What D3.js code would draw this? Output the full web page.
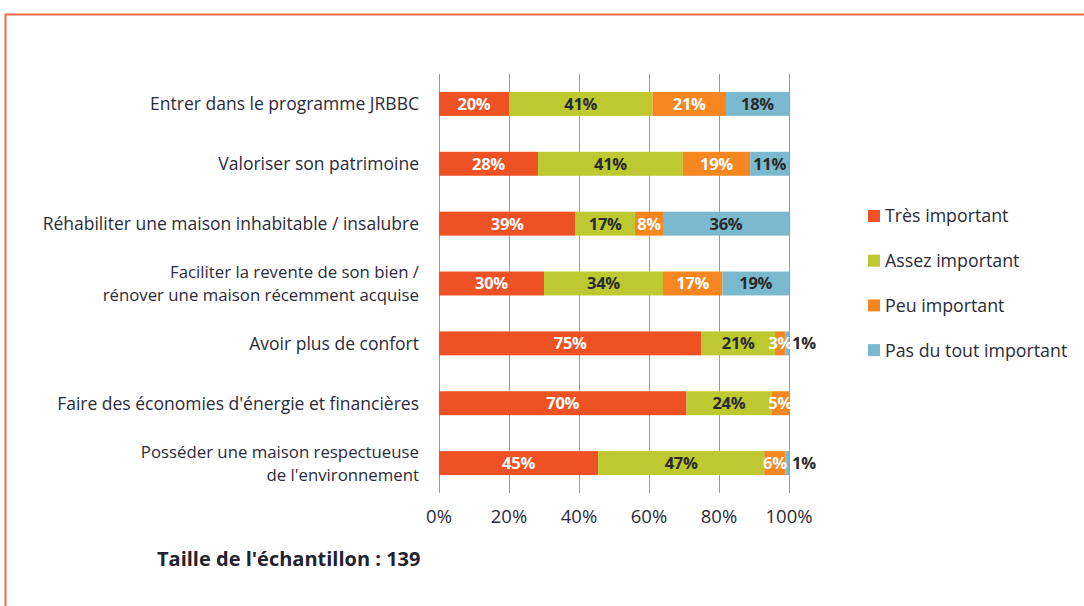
<!DOCTYPE html>
<html>
<head>
<meta charset="utf-8">
<script src="https://cdn.jsdelivr.net/npm/d3@7"></script>
<style>
  html, body { margin: 0; padding: 0; background: #fff; }
  body { width: 1084px; height: 606px; overflow: hidden; }
  svg text { font-family: "Open Sans", sans-serif; }
</style>
</head>
<body>
<div id="chart"></div>
<script>
// Categories (one per row, top to bottom); multi-line labels split on "\n"
const categories = [
  "Entrer dans le programme JRBBC",
  "Valoriser son patrimoine",
  "Réhabiliter une maison inhabitable / insalubre",
  "Faciliter la revente de son bien /\nrénover une maison récemment acquise",
  "Avoir plus de confort",
  "Faire des économies d'énergie et financières",
  "Posséder une maison respectueuse\nde l'environnement"
];

const seriesNames = ["Très important", "Assez important", "Peu important", "Pas du tout important"];
const seriesColors = ["#ee5124", "#bec932", "#f6861f", "#7bb9ce"];
const labelColors = ["#ffffff", "#2a2a2a", "#ffffff", "#2a2a2a"];

// percentages per series, same order as categories
const tresImportant   = [20, 28, 39, 30, 75, 70, 45];
const assezImportant  = [41, 41, 17, 34, 21, 24, 47];
const peuImportant    = [21, 19,  8, 17,  3,  5,  6];
const pasDuTout       = [18, 11, 36, 19,  1,  0,  1];

const tickValues = [0, 20, 40, 60, 80, 100];
const sampleNote = "Taille de l'échantillon : 139";

const seriesValues = [tresImportant, assezImportant, peuImportant, pasDuTout];

const width = 1084, height = 606;
const svg = d3.select("#chart").append("svg")
  .attr("width", width).attr("height", height);

// frame
svg.append("path")
  .attr("d", "M5.5,620 L5.5,14.5 L1100,14.5")
  .attr("fill", "none").attr("stroke", "#f26a47").attr("stroke-width", 2);

const x = d3.scaleLinear().domain([0, 100]).range([439, 789]);
const y = d3.scaleBand().domain(categories).range([74, 493])
  .paddingInner(0.6).paddingOuter(0.3);

// gridlines
svg.append("g").selectAll("line").data(tickValues).enter().append("line")
  .attr("x1", d => Math.round(x(d)) + 0.5).attr("x2", d => Math.round(x(d)) + 0.5)
  .attr("y1", 74).attr("y2", 493)
  .attr("stroke", "#9a9a9a").attr("stroke-width", 1);

// tick labels
svg.append("g").selectAll("text").data(tickValues).enter().append("text")
  .attr("x", d => x(d)).attr("y", 516).attr("dy", "0.36em")
  .attr("text-anchor", "middle")
  .attr("font-size", 18.5).attr("fill", "#2b2b3a")
  .text(d => d + "%");

// rows: normalised stack so every bar runs to 100%
const rows = categories.map((c, i) => {
  const vals = seriesValues.map(s => s[i]);
  const total = d3.sum(vals);
  let acc = 0;
  const segs = vals.map((v, k) => {
    const s = { cat: c, k, value: v, x0: acc / total * 100, x1: (acc + v) / total * 100 };
    acc += v;
    return s;
  });
  return { cat: c, segs };
});

const rowG = svg.append("g").selectAll("g").data(rows).enter().append("g");

rowG.selectAll("rect").data(r => r.segs.filter(s => s.value > 0)).enter().append("rect")
  .attr("x", s => x(s.x0)).attr("width", s => x(s.x1) - x(s.x0))
  .attr("y", s => y(s.cat)).attr("height", y.bandwidth())
  .attr("fill", s => seriesColors[s.k]);

const outside = s => s.value <= 1 && s.k === 3;

rowG.selectAll("text.val").data(r => r.segs.filter(s => s.value > 0)).enter().append("text")
  .attr("class", "val")
  .attr("x", s => outside(s) ? x(100) + 3 : x((s.x0 + s.x1) / 2))
  .attr("y", s => y(s.cat) + y.bandwidth() / 2)
  .attr("dy", "0.36em")
  .attr("text-anchor", s => outside(s) ? "start" : "middle")
  .attr("font-size", 16.5).attr("font-weight", "bold")
  .attr("letter-spacing", -0.3)
  .attr("fill", s => outside(s) ? "#2a2a2a" : labelColors[s.k])
  .text(s => s.value + "%");

// category labels, one text per line
const catG = svg.append("g").selectAll("g").data(categories).enter().append("g");

catG.each(function (c) {
  const lines = c.split("\n");
  const cy = y(c) + y.bandwidth() / 2;
  const lh = 23;
  d3.select(this).selectAll("text").data(lines).enter().append("text")
    .attr("x", 419)
    .attr("y", (d, i) => cy + (i - (lines.length - 1) / 2) * lh)
    .attr("dy", "0.36em")
    .attr("text-anchor", "end")
    .attr("font-size", lines.length > 1 ? 16.8 : 17.5)
    .attr("fill", "#2b2b3a")
    .text(d => d);
});

// legend
const legend = svg.append("g").selectAll("g").data(seriesNames).enter().append("g")
  .attr("transform", (d, i) => `translate(868, ${216 + i * 44.7})`);
legend.append("rect")
  .attr("x", 0).attr("y", -6).attr("width", 12).attr("height", 12)
  .attr("fill", (d, i) => seriesColors[i]);
legend.append("text")
  .attr("x", 17).attr("y", 0).attr("dy", "0.36em")
  .attr("font-size", 17.8).attr("fill", "#2b2b3a")
  .text(d => d);

// sample size note
svg.append("text")
  .attr("x", 157).attr("y", 559).attr("dy", "0.36em")
  .attr("font-size", 20).attr("font-weight", "bold").attr("fill", "#22222e")
  .text(sampleNote);
</script>
</body>
</html>
